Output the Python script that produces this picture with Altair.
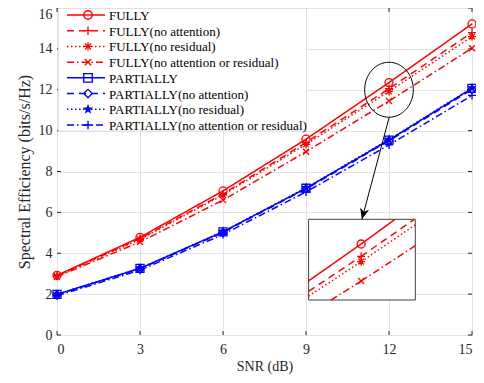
import math
import altair as alt
import pandas as pd

# ---------------- data ----------------
snr = [0, 3, 6, 9, 12, 15]
series_names = [
    "FULLY",
    "FULLY(no attention)",
    "FULLY(no residual)",
    "FULLY(no attention or residual)",
    "PARTIALLY",
    "PARTIALLY(no attention)",
    "PARTIALLY(no residual)",
    "PARTIALLY(no attention or residual)",
]
fully = [2.92, 4.78, 7.05, 9.58, 12.35, 15.22]
fully_no_att = [2.90, 4.72, 6.90, 9.42, 12.05, 14.80]
fully_no_res = [2.88, 4.68, 6.85, 9.33, 11.92, 14.60]
fully_no_both = [2.85, 4.55, 6.60, 8.97, 11.45, 14.03]
part = [1.99, 3.26, 5.05, 7.18, 9.54, 12.07]
part_no_att = [1.97, 3.24, 5.02, 7.15, 9.50, 12.02]
part_no_res = [1.99, 3.27, 5.06, 7.20, 9.56, 12.09]
part_no_both = [1.92, 3.17, 4.92, 7.00, 9.30, 11.72]
series_values = [fully, fully_no_att, fully_no_res, fully_no_both,
                 part, part_no_att, part_no_res, part_no_both]

x_ticks = [0, 3, 6, 9, 12, 15]
y_ticks = [0, 2, 4, 6, 8, 10, 12, 14, 16]

# zoomed inset window (data units) and annotation anchors (data units)
inset_x = [11.03, 13.0]
inset_y = [10.99, 12.95]
ellipse_center = [12.0, 12.0]
arrow_from = [12.0, 10.62]
arrow_to = [11.02, 5.66]

# ---------------- styles ----------------
W, H = 415, 327
RED, BLUE = "#ff0000", "#0000ff"
colors = [RED] * 4 + [BLUE] * 4
dash_styles = [[1, 0], [7, 5], [1.5, 2.5], [7, 3, 1.5, 3]] * 2

star = []
for i in range(10):
    r = 1.0 if i % 2 == 0 else 0.42
    a = -math.pi / 2 + i * math.pi / 5
    star.append(f"{r * math.cos(a):.3f},{r * math.sin(a):.3f}")
STAR = "M" + "L".join(star) + "Z"
PLUS = "M-1,0L1,0M0,-1L0,1"
AST = "M-1,0L1,0M0,-1L0,1M-0.7,-0.7L0.7,0.7M-0.7,0.7L0.7,-0.7"
XMK = "M-0.75,-0.75L0.75,0.75M-0.75,0.75L0.75,-0.75"
shapes = ["circle", PLUS, AST, XMK, "square", "diamond", STAR, PLUS]
filled_series = ["PARTIALLY(no residual)"]

FONT = "Liberation Serif"
AXC = "#262626"

rows = []
for name, vals in zip(series_names, series_values):
    for s, v in zip(snr, vals):
        rows.append({"series": name, "snr": s, "se": v})
df = pd.DataFrame(rows)


# clip segments to inset window
def clip(x0, y0, x1, y1, xmin, xmax, ymin, ymax):
    dx, dy = x1 - x0, y1 - y0
    t0, t1 = 0.0, 1.0
    for p, q in ((-dx, x0 - xmin), (dx, xmax - x0), (-dy, y0 - ymin), (dy, ymax - y0)):
        if p == 0:
            if q < 0:
                return None
        else:
            t = q / p
            if p < 0:
                if t > t1:
                    return None
                t0 = max(t0, t)
            else:
                if t < t0:
                    return None
                t1 = min(t1, t)
    return (x0 + t0 * dx, y0 + t0 * dy, x0 + t1 * dx, y0 + t1 * dy)


inset_rows, inset_pts = [], []
for name, vals in zip(series_names, series_values):
    for i in range(len(snr) - 1):
        c = clip(snr[i], vals[i], snr[i + 1], vals[i + 1],
                 inset_x[0], inset_x[1], inset_y[0], inset_y[1])
        if c:
            seg = f"{name}#{i}"
            inset_rows.append({"series": name, "seg": seg, "o": 0, "snr": c[0], "se": c[1]})
            inset_rows.append({"series": name, "seg": seg, "o": 1, "snr": c[2], "se": c[3]})
    for s, v in zip(snr, vals):
        if inset_x[0] <= s <= inset_x[1] and inset_y[0] <= v <= inset_y[1]:
            inset_pts.append({"series": name, "snr": s, "se": v})
df_inset = pd.DataFrame(inset_rows)
df_inset_pts = pd.DataFrame(inset_pts)

# ---------------- scales / encodings ----------------
xs = alt.Scale(domain=[0, 15], nice=False, zero=False)
ys = alt.Scale(domain=[0, 16], nice=False, zero=False)
ix_s = alt.Scale(domain=inset_x, range=[251.6, 358.3], nice=False, zero=False)
iy_s = alt.Scale(domain=inset_y, range=[292, 211.3], nice=False, zero=False)
leg_s = alt.Scale(type="point", domain=series_names, range=[7, 117], padding=0)

color = alt.Color("series:N", scale=alt.Scale(domain=series_names, range=colors), legend=None)
dash = alt.StrokeDash("series:N", scale=alt.Scale(domain=series_names, range=dash_styles), legend=None)
shape = alt.Shape("series:N", scale=alt.Scale(domain=series_names, range=shapes), legend=None)

X0 = alt.X("snr:Q", scale=xs, axis=None)
Y0 = alt.Y("se:Q", scale=ys, axis=None)

not_filled = alt.FieldOneOfPredicate(field="series", oneOf=[n for n in series_names if n not in filled_series])
is_filled = alt.FieldOneOfPredicate(field="series", oneOf=filled_series)

main_lines = alt.Chart(df).mark_line(strokeWidth=1.5).encode(
    x=alt.X("snr:Q", scale=xs,
            axis=alt.Axis(values=x_ticks, title="SNR (dB)", grid=True, ticks=False, domain=False,
                          labelPadding=7, titlePadding=3, titleFontSize=14)),
    y=alt.Y("se:Q", scale=ys,
            axis=alt.Axis(values=y_ticks, title="Spectral Efficiency (bits/s/Hz)", grid=True,
                          ticks=False, domain=False, labelPadding=5, titlePadding=6,
                          titleFontSize=16,
                          labelOffset=alt.condition("datum.value == 16", alt.value(6), alt.value(0)))),
    color=color, strokeDash=dash, detail="series:N", order="snr:Q",
)
main_pts_open = alt.Chart(df).mark_point(filled=False, size=64, strokeWidth=1.3, opacity=1).encode(
    x=X0, y=Y0, color=color, shape=shape).transform_filter(not_filled)
main_pts_fill = alt.Chart(df).mark_point(filled=True, size=110, opacity=1).encode(
    x=X0, y=Y0, color=color, shape=shape).transform_filter(is_filled)

# ellipse and arrow annotation
ell = alt.Chart(pd.DataFrame({"snr": [ellipse_center[0]], "se": [ellipse_center[1]]})).mark_point(
    shape="M-0.885,0A0.885,1 0 1,0 0.885,0A0.885,1 0 1,0 -0.885,0Z",
    size=3025, filled=False, stroke="#000000", strokeWidth=1, opacity=1,
).encode(x=X0, y=Y0)
arrow_line = alt.Chart(pd.DataFrame({"snr": [arrow_from[0]], "se": [arrow_from[1]],
                                     "snr2": [arrow_to[0]], "se2": [arrow_to[1]]})).mark_rule(
    color="#000000", strokeWidth=1).encode(x=X0, y=Y0, x2="snr2:Q", y2="se2:Q")
arrow_head = alt.Chart(pd.DataFrame({"snr": [arrow_to[0]], "se": [arrow_to[1]]})).mark_point(
    shape="M0,0L-0.42,-1L0,-0.72L0.42,-1Z", size=484, filled=True, fill="#000000",
    angle=14.6, opacity=1,
).encode(x=X0, y=Y0)

# inset
one = pd.DataFrame({"a": [0]})
inset_box = alt.Chart(one).mark_rect(fill="white", stroke="#404040", strokeWidth=1).encode(
    x=alt.value(251.6), x2=alt.value(358.3), y=alt.value(211.3), y2=alt.value(292))
IX = alt.X("snr:Q", scale=ix_s, axis=None)
IY = alt.Y("se:Q", scale=iy_s, axis=None)
inset_lines = alt.Chart(df_inset).mark_line(strokeWidth=1.5).encode(
    x=IX, y=IY, color=color, strokeDash=dash, detail="seg:N", order="o:Q")
inset_pts_open = alt.Chart(df_inset_pts).mark_point(filled=False, size=64, strokeWidth=1.3, opacity=1).encode(
    x=IX, y=IY, color=color, shape=shape).transform_filter(not_filled)

# ticks (inward)
tx = pd.DataFrame({"snr": x_ticks})
ty = pd.DataFrame({"se": y_ticks})
TL = 4
ticks = [
    alt.Chart(tx).mark_rule(color=AXC).encode(x=X0, y=alt.value(H), y2=alt.value(H - TL)),
    alt.Chart(tx).mark_rule(color=AXC).encode(x=X0, y=alt.value(0), y2=alt.value(TL)),
    alt.Chart(ty).mark_rule(color=AXC).encode(y=Y0, x=alt.value(0), x2=alt.value(TL)),
    alt.Chart(ty).mark_rule(color=AXC).encode(y=Y0, x=alt.value(W), x2=alt.value(W - TL)),
]

# legend
leg_df = pd.DataFrame({"series": series_names})
LY = alt.Y("series:N", scale=leg_s, axis=None)
leg_box = alt.Chart(one).mark_rect(fill="white", stroke="#e0e0e0", strokeWidth=1).encode(
    x=alt.value(1.5), x2=alt.value(249.5), y=alt.value(0.5), y2=alt.value(123))
leg_lines = alt.Chart(leg_df).mark_rule(strokeWidth=1.5).encode(
    x=alt.value(10), x2=alt.value(48), y=LY, color=color, strokeDash=dash)
leg_pts_open = alt.Chart(leg_df).mark_point(filled=False, size=72, strokeWidth=1.3, opacity=1).encode(
    x=alt.value(31), y=LY, color=color, shape=shape).transform_filter(not_filled)
leg_pts_fill = alt.Chart(leg_df).mark_point(filled=True, size=120, opacity=1).encode(
    x=alt.value(31), y=LY, color=color, shape=shape).transform_filter(is_filled)
leg_text = alt.Chart(leg_df).mark_text(align="left", baseline="middle", font=FONT, fontSize=13,
                                       color="#000000", dy=1).encode(
    x=alt.value(52), y=LY, text="series:N")

chart = alt.layer(
    main_lines, main_pts_open, main_pts_fill,
    ell, arrow_line, arrow_head,
    inset_box, inset_lines, inset_pts_open,
    *ticks,
    leg_box, leg_lines, leg_pts_open, leg_pts_fill, leg_text,
).resolve_scale(x="independent", y="independent").properties(
    width=W, height=H,
    padding={"left": 49, "top": 0, "right": 4, "bottom": 40},
    autosize=alt.AutoSizeParams(type="none"),
).configure_view(stroke=AXC, strokeWidth=1).configure_axis(
    labelFont=FONT, titleFont=FONT, labelFontSize=14, titleFontSize=14,
    labelColor=AXC, titleColor=AXC, titleFontWeight="normal",
    gridColor="#e3e3e3", gridWidth=1,
)

chart.save("out.html", embed_options={"renderer": "svg", "actions": False})
